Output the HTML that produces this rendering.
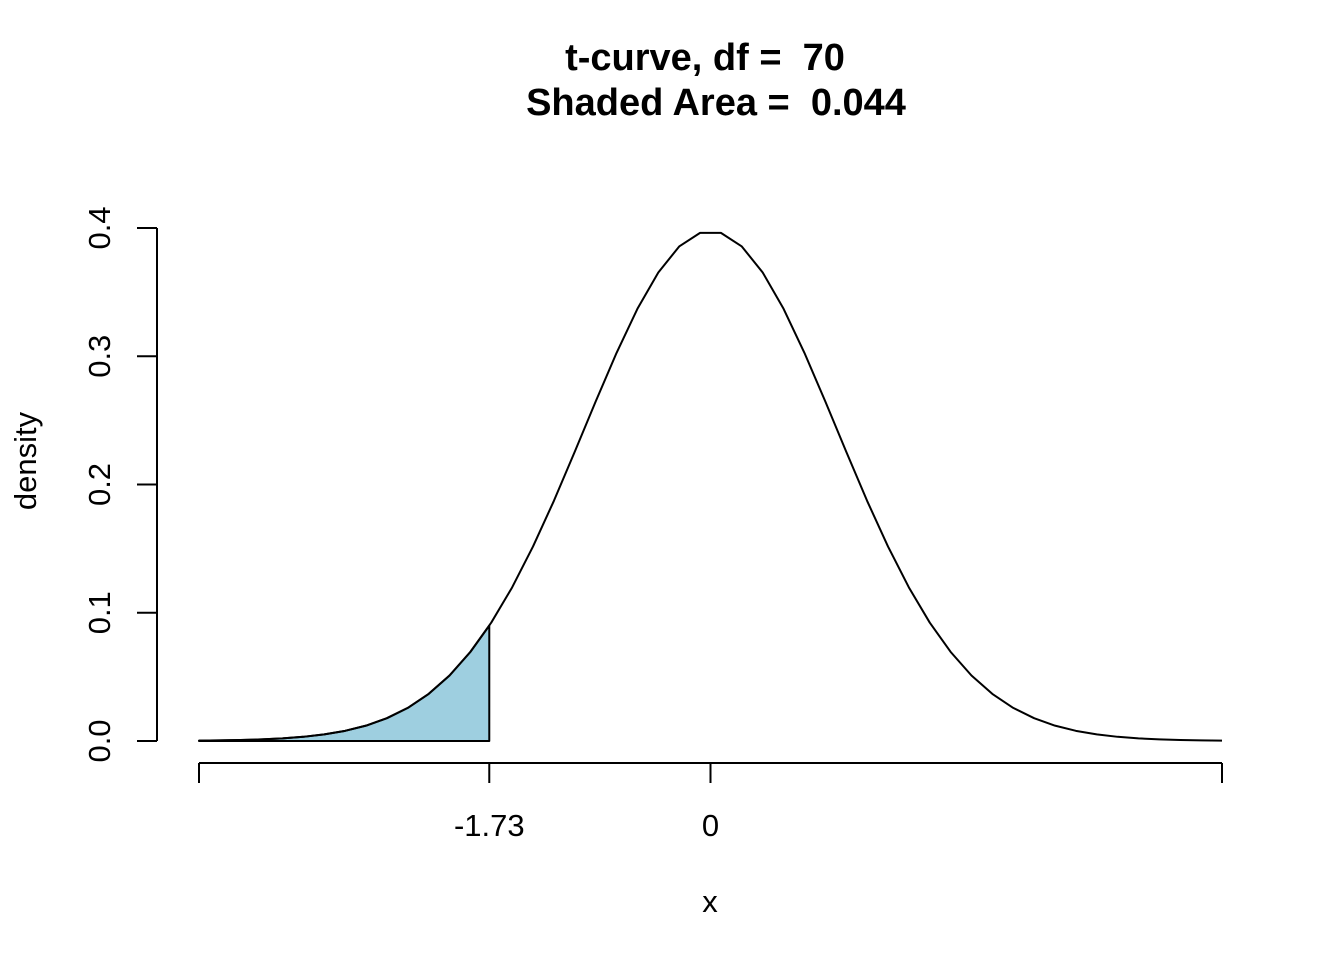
<!DOCTYPE html>
<html><head><meta charset="utf-8"><style>
html,body{margin:0;padding:0;background:#fff;}
svg{display:block;font-family:"Liberation Sans",Arial,sans-serif;}
.pre{white-space:pre;}
</style></head><body>
<svg id="chart" width="1344" height="960" viewBox="0 0 1344 960">
<text class="pre" x="705" y="70" text-anchor="middle" font-size="38" font-weight="bold">t-curve, df =  70</text>
<text class="pre" x="716" y="115" text-anchor="middle" font-size="38" font-weight="bold">Shaded Area =  0.044</text>
<text x="710" y="912" text-anchor="middle" font-size="31">x</text>
<text transform="translate(36,461) rotate(-90)" text-anchor="middle" font-size="31">density</text>
<g id="shade"></g><g id="curve"></g><g id="yaxis"></g><g id="xaxis"></g>
</svg>
<script>
const halfX = [-4,-3.8367,-3.6735,-3.5102,-3.3469,-3.1837,-3.0204,-2.8571,-2.6939,-2.5306,-2.3673,-2.2041,-2.0408,-1.8776,-1.7143,-1.5510,-1.3878,-1.2245,-1.0612,-0.8980,-0.7347,-0.5714,-0.4082,-0.2449,-0.0816];
const halfY = [0.000266,0.000453,0.000760,0.001257,0.002044,0.003268,0.005137,0.007922,0.01198,0.01778,0.02581,0.03671,0.05108,0.06951,0.09235,0.1198,0.1517,0.1873,0.2256,0.2647,0.3026,0.3370,0.3653,0.3856,0.3962];
const cutoff = -1.73;
const cutoffY = 0.0899;
const yTicks = [0,0.1,0.2,0.3,0.4];
const yTickLabels = ["0.0","0.1","0.2","0.3","0.4"];
const xTicks = [-4,-1.73,0,4];
const xTickLabels = ["","-1.73","0",""];

const ns="http://www.w3.org/2000/svg";
const sx=v=>199+(v+4)*(1222-199)/8;
const sy=v=>741-v*(741-228)/0.4;
const xs=halfX.concat(halfX.slice().reverse().map(v=>-v));
const ys=halfY.concat(halfY.slice().reverse());
function mk(tag,attrs,parent){const e=document.createElementNS(ns,tag);for(const k in attrs)e.setAttribute(k,attrs[k]);parent.appendChild(e);return e;}

let sp=[];
for(let i=0;i<xs.length;i++) if(xs[i]<=cutoff) sp.push(sx(xs[i])+","+sy(ys[i]));
sp.push(sx(cutoff)+","+sy(cutoffY));
sp.push(sx(cutoff)+","+sy(0));
sp.push(sx(xs[0])+","+sy(0));
const poly=mk("polygon",{points:sp.join(" "),fill:"#9ecfe0",stroke:"#000","stroke-width":2,"stroke-linejoin":"round"},document.getElementById("shade"));



const cp=xs.map((x,i)=>sx(x)+","+sy(ys[i])).join(" ");
const pl=mk("polyline",{points:cp,fill:"none",stroke:"#000","stroke-width":2,"stroke-linejoin":"round"},document.getElementById("curve"));



const ya=document.getElementById("yaxis");
const yl=mk("line",{x1:157,x2:157,y1:sy(yTicks[0]),y2:sy(yTicks[yTicks.length-1]),stroke:"#000","stroke-width":2},ya);


yTicks.forEach((t,i)=>{
  const tk=mk("line",{x1:137,x2:157,y1:sy(t),y2:sy(t),stroke:"#000","stroke-width":2},ya);
  
  
  const tx=mk("text",{transform:`translate(110,${sy(t)}) rotate(-90)`,"text-anchor":"middle","font-size":31},ya);
  tx.textContent=yTickLabels[i];
  
  
});

const xa=document.getElementById("xaxis");
const xl=mk("line",{x1:sx(xTicks[0]),x2:sx(xTicks[xTicks.length-1]),y1:763,y2:763,stroke:"#000","stroke-width":2},xa);


xTicks.forEach((t,i)=>{
  const tk=mk("line",{x1:sx(t),x2:sx(t),y1:763,y2:783,stroke:"#000","stroke-width":2},xa);
  
  
  if(xTickLabels[i]){
    const tx=mk("text",{x:sx(t),y:836,"text-anchor":"middle","font-size":31},xa);
    tx.textContent=xTickLabels[i];
    
    
  }
});
</script>
</body></html>
